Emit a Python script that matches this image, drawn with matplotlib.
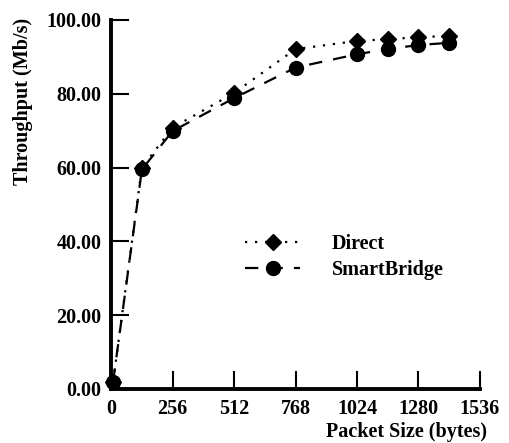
import matplotlib
matplotlib.use("Agg")
import matplotlib.pyplot as plt

packet_sizes = [8, 128, 256, 512, 768, 1024, 1152, 1280, 1408]
direct = [2.0, 60.0, 70.8, 80.2, 92.1, 94.3, 94.8, 95.3, 95.7]
smartbridge = [2.0, 59.5, 69.9, 78.8, 87.1, 90.7, 92.1, 93.2, 93.8]
x_ticks = [0, 256, 512, 768, 1024, 1280, 1536]
y_ticks = [0, 20, 40, 60, 80, 100]

plt.rcParams['font.family'] = ['Liberation Serif', 'DejaVu Serif']
plt.rcParams['font.weight'] = 'bold'

FS = 14.5
fig = plt.figure(figsize=(5.10, 4.43), dpi=100)
ax = fig.add_axes([0.218, 0.122, 0.723, 0.833])

ax.plot(packet_sizes, direct, linestyle=(0, (1, 3.5)), color='black', lw=1.6,
        marker='D', markersize=8, label='Direct')
ax.plot(packet_sizes, smartbridge, linestyle=(0, (6, 5)), color='black', lw=1.6,
        marker='o', markersize=10, label='SmartBridge')

ax.set_xlim(0, 1536)
ax.set_ylim(0, 100)
ax.set_xticks(x_ticks)
ax.set_xticklabels([str(t) for t in x_ticks])
ax.set_yticks(y_ticks)
ax.set_yticklabels([f"{t:.2f}" for t in y_ticks])

for s in ['top', 'right']:
    ax.spines[s].set_visible(False)
for s in ['left', 'bottom']:
    ax.spines[s].set_linewidth(2.8)
ax.tick_params(axis='both', direction='in', length=13, width=1.5, labelsize=FS)
ax.tick_params(axis='x', pad=7)
ax.tick_params(axis='y', pad=7)
for lab in ax.get_xticklabels() + ax.get_yticklabels():
    lab.set_fontweight('bold')
for line in ax.lines:
    line.set_clip_on(False)

fig.text(0.046, 0.77, 'Throughput (Mb/s)', rotation=90, ha='center', va='center',
         fontsize=FS, fontweight='bold')
fig.text(0.798, 0.0135, 'Packet Size (bytes)', ha='center', va='baseline',
         fontsize=FS, fontweight='bold')

leg = ax.legend(loc='center left', bbox_to_anchor=(0.315, 0.358), frameon=False,
                prop={'size': FS, 'weight': 'bold'}, handlelength=2.7,
                handletextpad=1.6, labelspacing=0.3)

fig.savefig('out.png', dpi=100)
